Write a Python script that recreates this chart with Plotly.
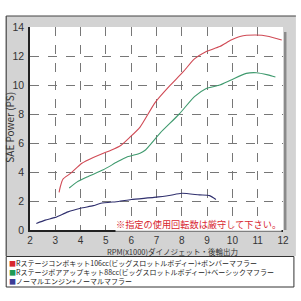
import plotly.graph_objects as go

# ---- data ----
red_x = [3.15, 3.2, 3.3, 3.6, 4.05, 4.5, 4.9, 5.2, 5.6, 5.95, 6.35, 6.95, 7.5, 8.05, 8.5, 8.95, 9.5, 9.95, 10.3, 10.9, 11.45, 11.95]
red_y = [2.6, 3.0, 3.5, 3.9, 4.6, 5.0, 5.3, 5.5, 5.85, 6.4, 7.1, 8.8, 9.9, 10.9, 11.8, 12.3, 12.65, 13.1, 13.35, 13.45, 13.35, 13.1]
green_x = [3.55, 3.85, 4.25, 4.9, 5.45, 5.85, 6.35, 6.55, 7.15, 7.9, 8.5, 8.95, 9.5, 9.95, 10.55, 10.95, 11.4, 11.7]
green_y = [2.9, 3.3, 3.65, 4.15, 4.7, 5.05, 5.3, 5.5, 6.7, 8.0, 9.2, 9.75, 10.0, 10.35, 10.8, 10.85, 10.7, 10.55]
navy_x = [2.25, 2.6, 3.0, 3.5, 4.0, 4.5, 4.8, 5.5, 6.0, 6.9, 7.5, 8.0, 8.7, 9.1, 9.35]
navy_y = [0.45, 0.68, 0.87, 1.25, 1.5, 1.68, 1.84, 1.97, 2.1, 2.25, 2.38, 2.53, 2.42, 2.37, 2.1]

series_names = [
    "Rステージコンボキット106cc(ビッグスロットルボディー)+ボンバーマフラー",
    "Rステージボアアップキット88cc(ビッグスロットルボディー)+ベーシックマフラー",
    "ノーマルエンジン+ノーマルマフラー",
]
line_colors = ["#d04a55", "#3f9a6e", "#30306e"]
swatch_colors = ["#d8262f", "#1f9a55", "#3c3c96"]
x_ticks = list(range(2, 13))
y_ticks = list(range(0, 15, 2))
x_title = "RPM(x1000)ダイノジェット・後輪出力"
y_title = "SAE Power (PS)"
note = "※指定の使用回転数は厳守して下さい。"

FONT = "Noto Sans CJK JP"
NUMFONT = "Liberation Sans"
W = H = 301
L, R, T, B = 29, 284, 27, 230  # plot area in px

def px(xp):
    return (xp - L) / (R - L)

def py(yp):
    return (B - yp) / (B - T)

fig = go.Figure()
for xs, ys, c in [(red_x, red_y, line_colors[0]), (green_x, green_y, line_colors[1]), (navy_x, navy_y, line_colors[2])]:
    fig.add_trace(go.Scatter(x=xs, y=ys, mode="lines", line=dict(color=c, width=1.1, shape="spline", smoothing=0.6),
                             showlegend=False, hoverinfo="skip"))

shapes = [
    dict(type="rect", xref="paper", yref="paper", x0=px(5), x1=px(297), y0=py(256), y1=py(16),
         fillcolor="#d3d3d3", line=dict(width=0), layer="below"),
    dict(type="rect", xref="paper", yref="paper", x0=0, x1=1, y0=0, y1=1,
         fillcolor="white", line=dict(width=0), layer="below"),
    dict(type="line", xref="paper", yref="paper", x0=px(5), x1=px(297), y0=py(16), y1=py(16),
         line=dict(color="#444", width=1.2)),
    dict(type="line", xref="paper", yref="paper", x0=px(5), x1=px(5), y0=py(16), y1=py(256),
         line=dict(color="#444", width=1.2)),
    dict(type="rect", xref="paper", yref="paper", x0=px(285), x1=px(287.5), y0=py(230), y1=py(32),
         fillcolor="#8a8a8a", line=dict(width=0)),
    dict(type="rect", xref="paper", yref="paper", x0=px(5), x1=px(295), y0=py(287), y1=py(256.5),
         fillcolor="white", line=dict(color="#333", width=1)),
]

legend_text = "<br>".join(f"<span style='color:{col}'>■</span>{name}"
                          for name, col in zip(series_names, swatch_colors))

annotations = [
    dict(text=y_title, xref="paper", yref="paper", x=px(8.5), y=py(127), showarrow=False, textangle=-90,
         font=dict(family=FONT, size=10, color="#333"), xanchor="center", yanchor="middle"),
    dict(text=x_title, xref="paper", yref="paper", x=px(173), y=py(251), showarrow=False,
         font=dict(family=FONT, size=7.5, color="#333"), xanchor="center", yanchor="middle"),
    dict(text=note, xref="paper", yref="paper", x=px(283), y=py(224), showarrow=False,
         font=dict(family=FONT, size=9.2, color="#d8262f"), xanchor="right", yanchor="middle",
         bgcolor="rgba(255,255,255,0.85)", borderpad=0),
    dict(text=legend_text, xref="paper", yref="paper", x=px(5.5), y=py(271.5), showarrow=False,
         xanchor="left", yanchor="middle", align="left",
         font=dict(family=FONT, size=7.0, color="#222")),
]

fig.update_layout(
    width=W, height=H,
    margin=dict(l=L, r=W - R, t=T, b=H - B),
    paper_bgcolor="white", plot_bgcolor="white",
    shapes=shapes, annotations=annotations,
    xaxis=dict(range=[2, 12], tickvals=x_ticks, ticktext=[str(v) for v in x_ticks],
               showgrid=True, gridcolor="#777", griddash="dash", gridwidth=0.8,
               showline=True, linecolor="#222", linewidth=1.5, zeroline=False,
               ticks="", tickfont=dict(family=NUMFONT, size=10, color="#333"), ticklabelstandoff=0),
    yaxis=dict(range=[0, 14], tickvals=y_ticks, ticktext=[str(v) for v in y_ticks],
               showgrid=True, gridcolor="#777", griddash="dash", gridwidth=0.8,
               showline=True, linecolor="#222", linewidth=1.5, zeroline=False,
               ticks="", tickfont=dict(family=NUMFONT, size=10.5, color="#333"), ticklabelstandoff=2),
)

fig.write_html("out.html")
